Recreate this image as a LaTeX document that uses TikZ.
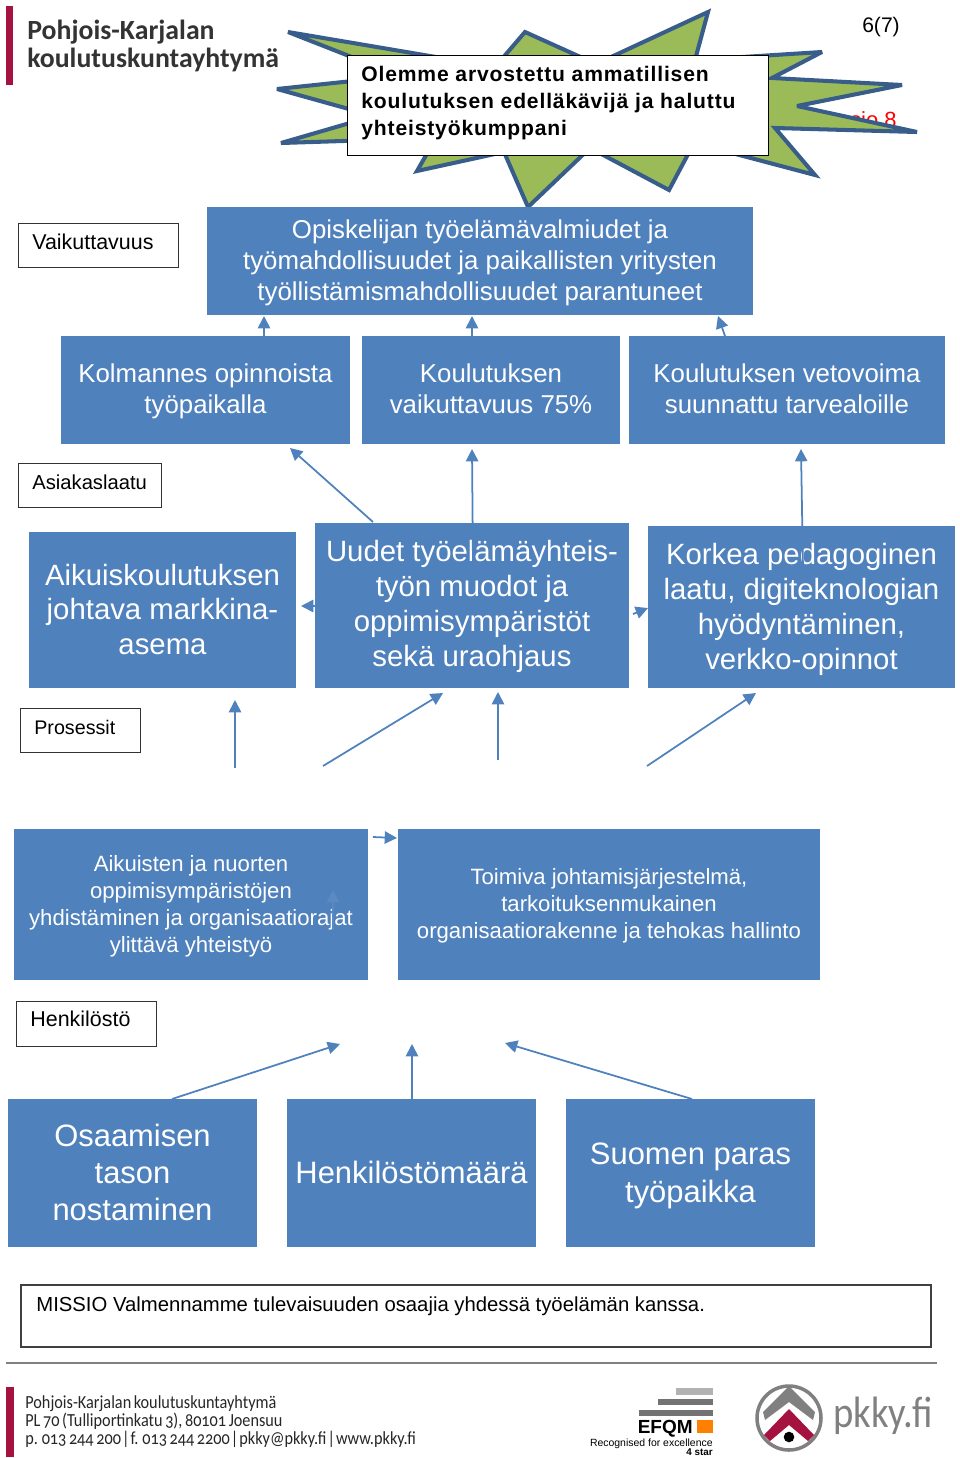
\documentclass[tikz,border=0pt]{standalone}
\usepackage{xcolor}
\usepackage{fontspec}
\setmainfont{Liberation Sans}
\newfontfamily\spacedfont[LetterSpace=4]{Liberation Sans}
\newfontfamily\logofont{Carlito}
\newfontfamily\footfont[FakeStretch=0.88,Numbers=OldStyle,WordSpace=0.7]{Carlito}
\usetikzlibrary{arrows.meta}
\definecolor{boxblue}{HTML}{4F81BD}
\definecolor{starblue}{HTML}{385D8A}
\definecolor{stargreen}{HTML}{9BBB59}
\definecolor{pkkyred}{HTML}{A5123F}
\definecolor{pkkygray}{HTML}{808080}
\newcommand{\topgap}[1]{\rule{0pt}{\dimexpr0.7\baselineskip+#1\relax}}

\begin{document}
\begin{tikzpicture}[
  x=0.2mm, y=-0.2mm,
  bluebox/.style={rectangle, fill=boxblue, text=white, inner sep=0pt, align=center,
    execute at end node=\strut},
  midbox/.style={bluebox, font=\fontsize{14.7}{17.6}\selectfont},
  bigbox/.style={bluebox, font=\fontsize{16.7}{19.9}\selectfont},
  hugebox/.style={bluebox, font=\fontsize{17.6}{21.2}\selectfont},
  smallbox/.style={bluebox, font=\fontsize{12.6}{15.4}\selectfont},
  tagbox/.style={rectangle, draw=black!80, fill=white, line width=0.5pt, inner sep=0pt},
  tagtext/.style={inner sep=0pt, anchor=west, font=\fontsize{#1}{14}\selectfont},
  logotext/.style={inner sep=0pt, anchor=west, align=left},
  arr/.style={-{Triangle[length=7pt, width=7pt]}, draw=boxblue, line width=1pt}
]
  \useasboundingbox (0,0) rectangle (960,1458);

  % top of the page
  \fill[pkkyred] (6,6) rectangle (13,85);
  \node[logotext, font=\logofont\bfseries\fontsize{15.8}{15.9}\selectfont, text=black!80] (logo) at (27,46)
    {Pohjois-Karjalan\\koulutuskuntayhtymä};
  \node[inner sep=0pt, font=\fontsize{12}{14}\selectfont] (page) at (881,27) {6(7)};
  \node[inner sep=0pt, anchor=base east, text=red, font=\fontsize{12.5}{14}\selectfont] (versio) at (897,127) {sio 8};

  \draw[draw=starblue, fill=stargreen, line width=2.3pt, line join=miter, miter limit=4]
    (288,32) -- (495,67) -- (525,32) -- (596,64) -- (708,12) -- (695,60) -- (822,52)
    -- (772,78) -- (902,85) -- (797,106) -- (917,132) -- (775,128) -- (815,175)
    -- (694,143) -- (669,190) -- (590,148) -- (528,207) -- (504,152) -- (417,171)
    -- (436,138) -- (281,143) -- (374,116) -- (277,89) -- (400,76) -- cycle;
  \node[rectangle, draw=black, fill=white, line width=0.5pt, minimum width=84.2mm, minimum height=20mm,
    inner sep=0pt] (vision) at (557.5,105) {};
  \node[inner sep=0pt, anchor=west, align=left, font=\spacedfont\bfseries\fontsize{12}{15.4}\selectfont] (visiontext) at (361,103)
    {Olemme arvostettu ammatillisen\\koulutuksen edelläkävijä ja haluttu\\yhteistyökumppani};

  % boxes
  \node[midbox, minimum width=109.2mm, minimum height=21.6mm] (paatos) at (480,261)
    {\topgap{2.2pt}Opiskelijan työelämävalmiudet ja\\työmahdollisuudet ja paikallisten yritysten\\työllistämismahdollisuudet parantuneet};
  \node[midbox, minimum width=57.8mm, minimum height=21.6mm] (kolmannes) at (205.5,390)
    {\topgap{2.3pt}Kolmannes opinnoista\\työpaikalla};
  \node[midbox, minimum width=51.6mm, minimum height=21.6mm] (vaikutus) at (491,390)
    {\topgap{2.3pt}Koulutuksen\\vaikuttavuus 75\%};
  \node[midbox, minimum width=63.2mm, minimum height=21.6mm] (vetovoima) at (787,390)
    {\topgap{2.3pt}Koulutuksen vetovoima\\suunnattu tarvealoille};
  \node[bigbox, minimum width=53.4mm, minimum height=31.2mm] (markkina) at (162.5,610)
    {\topgap{3.4pt}Aikuiskoulutuksen\\johtava markkina-\\asema};
  \node[bigbox, minimum width=62.8mm, minimum height=33mm] (muodot) at (472,605.5)
    {\topgap{2.2pt}Uudet työelämäyhteis-\\työn muodot ja\\oppimisympäristöt\\sekä uraohjaus};
  \node[bigbox, minimum width=61.4mm, minimum height=32.4mm] (laatu) at (801.5,607)
    {\topgap{3.4pt}Korkea pedagoginen\\laatu, digiteknologian\\hyödyntäminen,\\verkko-opinnot};
  \node[smallbox, minimum width=70.8mm, minimum height=30.2mm] (yhteistyo) at (191,904.5)
    {\topgap{2.2pt}Aikuisten ja nuorten\\oppimisympäristöjen\\yhdistäminen ja organisaatiorajat\\ylittävä yhteistyö};
  \node[smallbox, minimum width=84.4mm, minimum height=30.2mm] (johtaminen) at (609,904.5)
    {\topgap{2.2pt}Toimiva johtamisjärjestelmä,\\tarkoituksenmukainen\\organisaatiorakenne ja tehokas hallinto};
  \node[hugebox, minimum width=49.8mm, minimum height=29.6mm] (osaaminen) at (132.5,1173)
    {\topgap{3.4pt}Osaamisen\\tason\\nostaminen};
  \node[hugebox, minimum width=49.8mm, minimum height=29.6mm] (maara) at (411.5,1173)
    {\topgap{3.4pt}Henkilöstömäärä};
  \node[hugebox, minimum width=49.8mm, minimum height=29.6mm] (tyopaikka) at (690.5,1173)
    {\topgap{3.4pt}Suomen paras\\työpaikka};

  % tags
  \node[tagbox, minimum width=32mm, minimum height=8.8mm] (tagA) at (98,245) {};
  \node[tagtext=12.2] (tagAtext) at (32,242) {Vaikuttavuus};
  \node[tagbox, minimum width=28.6mm, minimum height=8.8mm] (tagB) at (89.5,485) {};
  \node[tagtext=11.5] (tagBtext) at (32,482) {Asiakaslaatu};
  \node[tagbox, minimum width=24mm, minimum height=8.8mm] (tagC) at (80,730) {};
  \node[tagtext=11.2] (tagCtext) at (34,727) {Prosessit};
  \node[tagbox, minimum width=28mm, minimum height=9mm] (tagD) at (86,1023.5) {};
  \node[tagtext=12.2] (tagDtext) at (30,1019) {Henkilöstö};

  % free ends of the arrows
  \coordinate (a1) at (264,336);  \coordinate (b1) at (264,316);
  \coordinate (a2) at (472,336);  \coordinate (b2) at (472,316);
  \coordinate (a3) at (725,336);  \coordinate (b3) at (718,316);
  \coordinate (a4) at (373,522);  \coordinate (b4) at (290,448);
  \coordinate (a5) at (473,566);  \coordinate (b5) at (472,449);
  \coordinate (a6) at (803,569);  \coordinate (b6) at (801,449);
  \coordinate (a7) at (315,606);  \coordinate (b7) at (301,606);
  \coordinate (a8) at (633,614);  \coordinate (b8) at (648,608);
  \coordinate (a9) at (235,768);  \coordinate (b9) at (235,700);
  \coordinate (a10) at (323,766); \coordinate (b10) at (443,693);
  \coordinate (a11) at (498,760); \coordinate (b11) at (498,692);
  \coordinate (a12) at (647,766); \coordinate (b12) at (756,693);
  \coordinate (a13) at (373,837); \coordinate (b13) at (397,838);
  \coordinate (a14) at (172,1099); \coordinate (b14) at (340,1044);
  \coordinate (a15) at (412,1099); \coordinate (b15) at (412,1044);
  \coordinate (a16) at (692,1099); \coordinate (b16) at (505,1043);

  \foreach \n in {1,...,16}
    \draw[arr] (a\n) -- (b\n);

  \coordinate (a17) at (333,930); \coordinate (b17) at (333,890);
  \draw[arr, draw=boxblue!93!white] (a17) -- (b17);

  % mission
  \node[rectangle, draw=black!75, fill=white, line width=0.6pt, minimum width=182mm, minimum height=12.4mm] (missio) at (476,1316) {};
  \node[inner sep=0pt, anchor=base west, font=\fontsize{11.55}{14}\selectfont] (missiotext) at (36,1311)
    {MISSIO Valmennamme tulevaisuuden osaajia yhdessä työelämän kanssa.};
  \draw[black!50, line width=0.6pt] (6,1363) -- (937,1363);

  % foot of the page
  \fill[pkkyred] (6,1387) rectangle (14,1457);
  \node[logotext, font=\footfont\fontsize{10.5}{10.2}\selectfont, text=black!85] (address) at (25,1422)
    {Pohjois-Karjalan koulutuskuntayhtymä\\PL 70 (Tulliportinkatu 3), 80101 Joensuu\\p. 013 244 200\kern0.6pt|\kern0.6pt f. 013 244 2200\kern0.6pt|\kern0.6pt pkky@pkky.fi\kern0.6pt|\kern0.6pt www.pkky.fi};

  % EFQM
  \fill[black!30] (676,1388) rectangle (713,1395);
  \fill[black!55] (658,1399) rectangle (713,1405);
  \fill[black!55] (639,1410) rectangle (713,1416);
  \fill[orange] (697,1420) rectangle (713,1433);
  \node[inner sep=0pt, anchor=base east, font=\bfseries\fontsize{10.8}{12}\selectfont] (efqm) at (693,1433) {EFQM};
  \node[inner sep=0pt, anchor=base east, font=\fontsize{5.95}{7}\selectfont] (recog) at (713,1446) {Recognised for excellence};
  \node[inner sep=0pt, anchor=base east, font=\bfseries\fontsize{5.6}{7}\selectfont] (star) at (713,1455) {4 star};

  % pkky
  \draw[pkkygray, fill=white, line width=2pt] (789,1418) circle (32);
  \fill[pkkygray] (789,1386) -- (815,1412) -- (813,1420) -- (789,1402) -- (765,1420) -- (763,1412) -- cycle;
  \fill[pkkyred] (789,1409) -- (814,1435) -- (808,1441) -- (789,1425) -- (770,1441) -- (764,1435) -- cycle;
  \fill[black] (789,1437) circle (5.3);
  \node[inner sep=0pt, anchor=base west, text=pkkygray, font=\footfont\fontsize{25}{30}\selectfont] (pkky) at (833,1427) {pkky.fi};
\end{tikzpicture}
\end{document}
